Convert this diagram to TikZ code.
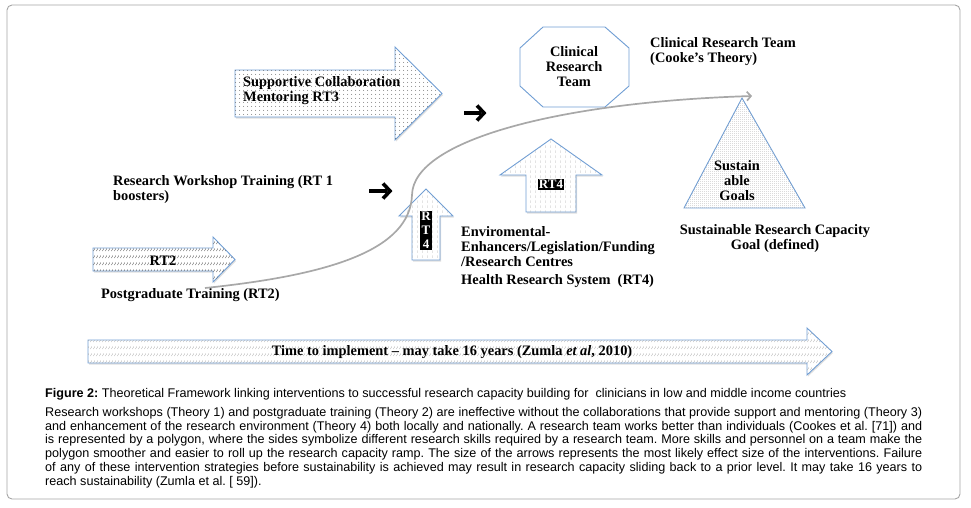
\documentclass[tikz,border=0pt]{standalone}
\usepackage{fontspec}
\setmainfont{Liberation Serif}
\newfontfamily\capfont{Liberation Sans}
\usepackage{tikz}
\usetikzlibrary{
  arrows.meta, positioning, calc,
  patterns, patterns.meta, shadows
}
\usepackage{xcolor}
\definecolor{rcblue}{RGB}{112,158,212}
\definecolor{rcframe}{RGB}{165,165,165}
\definecolor{rcramp}{RGB}{168,168,168}
\frenchspacing

\tikzdeclarepattern{
  name=rcslash, type=uncolored,
  bottom left={(0pt,0pt)}, top right={(3pt,6.5pt)},
  tile size={(3pt,6.5pt)},
  code={\draw[line width=0.4pt] (0.5pt,1pt) -- (2.3pt,3.6pt);}
}
\tikzdeclarepattern{
  name=rcvdash, type=uncolored,
  bottom left={(0pt,0pt)}, top right={(4.5pt,5pt)},
  tile size={(4.5pt,5pt)},
  code={\draw[line width=0.4pt] (2pt,0pt) -- (2pt,3pt);}
}
\tikzdeclarepattern{
  name=rcdots, type=uncolored,
  bottom left={(0pt,0pt)}, top right={(3.6pt,3.6pt)},
  tile size={(3.6pt,3.6pt)},
  code={\fill (1.8pt,1.8pt) circle (0.5pt);}
}
\tikzdeclarepattern{
  name=rcfine, type=uncolored,
  bottom left={(0pt,0pt)}, top right={(2pt,2pt)},
  tile size={(2pt,2pt)},
  code={\fill (1pt,1pt) circle (0.4pt);}
}

\begin{document}
\begin{tikzpicture}[x=1pt, y=-1pt,
  lbl/.style={inner sep=0pt, font=\bfseries\fontsize{14.4}{15}\selectfont},
  blockarr/.style={draw=rcblue, line width=0.9pt, line join=miter,
    drop shadow={shadow xshift=1pt, shadow yshift=-1.5pt, fill=black!25}},
  rtbox/.style={fill=black, text=white, inner sep=1pt,
    font=\bfseries\fontsize{13}{14}\selectfont},
  pusharr/.style={line width=3.6pt, line join=miter, miter limit=4}]
\useasboundingbox (0,0) rectangle (971,507);
\draw[draw=rcframe, line width=0.9pt, rounded corners=5pt] (7,5) rectangle (960,499);

% block arrows
\draw[blockarr, fill=white, postaction={pattern={rcdots}, pattern color=black!70}]
  (235,70) -- (395,70) -- (395,47) -- (442,93.5) -- (395,140) -- (395,117) -- (235,117) -- cycle;
\draw[blockarr, fill=white, postaction={pattern={rcslash}, pattern color=black!75}]
  (93,248) -- (213,248) -- (213,237) -- (235,259.5) -- (213,282) -- (213,271) -- (93,271) -- cycle;
\draw[blockarr, fill=white, postaction={pattern={rcslash}, pattern color=gray!70}]
  (88,340) -- (807,340) -- (807,328) -- (832,351.5) -- (807,375) -- (807,363) -- (88,363) -- cycle;
\draw[blockarr, fill=white, postaction={pattern={rcvdash}, pattern color=gray!60}]
  (412,260) -- (412,216) -- (399,216) -- (426,189) -- (453,216) -- (440,216) -- (440,260) -- cycle;
\draw[blockarr, fill=white, postaction={pattern={rcvdash}, pattern color=gray!60}]
  (526,212) -- (526,175) -- (500,175) -- (551,139) -- (602,175) -- (576,175) -- (576,212) -- cycle;

% team polygon and goal triangle
\draw[draw=rcblue, line width=0.9pt, fill=white]
  (543,27) -- (605,27) -- (629,48) -- (629,86) -- (605,107) -- (543,107) -- (520,86) -- (520,48) -- cycle;
\draw[draw=rcblue, line width=0.9pt, fill=white, postaction={pattern={rcfine}, pattern color=gray!80}]
  (742,98) -- (805,208) -- (684,208) -- cycle;

% labels
\node[lbl, anchor=west, align=left] (collab) at (243,90.5) {Supportive Collaboration\\Mentoring RT3};
\node[lbl, align=center] (team) at (574,67) {Clinical\\Research\\Team};
\node[lbl, anchor=west, align=left] (cooke) at (650,51.5) {Clinical Research Team\\(Cooke's Theory)};
\node[lbl, anchor=west, align=left] (workshop) at (113,190) {Research Workshop Training (RT 1\\boosters)};
\node[lbl] (rt2) at (163,261) {RT2};
\node[lbl, anchor=west] (postgrad) at (101,295) {Postgraduate Training (RT2)};
\node[rtbox, align=center] (rt4a) at (426,230.5) {R\\T\\4};
\node[rtbox] (rt4b) at (551,184.5) {RT4};
\node[lbl, anchor=west, align=left] (enviro) at (461,257.5)
  {Enviromental-\\Enhancers/Legislation/Funding\\/Research Centres\\[3pt]Health Research System\ \ (RT4)};
\node[lbl, align=center] (sustain) at (737,180.5) {Sustain\\able\\Goals};
\node[lbl, align=center] (goal) at (775,238.5) {Sustainable Research Capacity\\Goal (defined)};
\node[lbl] (time) at (452,352) {Time to implement -- may take 16 years (Zumla \textit{et al}, 2010)};

% small black arrows
\coordinate (push1a) at (464,113);
\coordinate (push1b) at (484,113);
\coordinate (push2a) at (369,191);
\coordinate (push2b) at (390,191);
\foreach \a/\b in {push1a/push1b, push2a/push2b} {
  \draw[pusharr] (\a) -- ($(\b)+(-3,0)$);
  \draw[pusharr] ($(\b)+(-7,-7.5)$) -- (\b) -- ($(\b)+(-7,7.5)$);
}

% capacity ramp
\coordinate (rampstart) at (205,288);
\coordinate (rampmid) at (412,195);
\coordinate (rampend) at (752,96);
\draw[rcramp, line width=1.7pt, -{Straight Barb[length=4pt, width=9pt]}]
  (rampstart) .. controls (330,275) and (410,250) .. (rampmid)
  .. controls (413,140) and (560,102) .. (rampend);

% caption
\node[anchor=base west, inner sep=0pt, font=\capfont\fontsize{12.6}{13.8}\selectfont] (figtitle) at (45,397)
  {\textbf{Figure 2:} Theoretical Framework linking interventions to successful research capacity building for\ \ clinicians in low and middle income countries};
\node[anchor=north west, inner sep=0pt, text width=877pt, align=justify,
  font=\capfont\fontsize{12.6}{13.8}\selectfont] (figtext) at (45,407)
  {Research workshops (Theory 1) and postgraduate training (Theory 2) are ineffective without the collaborations that provide support and mentoring (Theory 3)\linebreak
  and enhancement of the research environment (Theory 4) both locally and nationally. A research team works better than individuals (Cookes et al. [71]) and\linebreak
  is represented by a polygon, where the sides symbolize different research skills required by a research team. More skills and personnel on a team make the\linebreak
  polygon smoother and easier to roll up the research capacity ramp. The size of the arrows represents the most likely effect size of the interventions. Failure\linebreak
  of any of these intervention strategies before sustainability is achieved may result in research capacity sliding back to a prior level. It may take 16 years to\linebreak
  reach sustainability (Zumla et al. [ 59]).};
\end{tikzpicture}
\end{document}
